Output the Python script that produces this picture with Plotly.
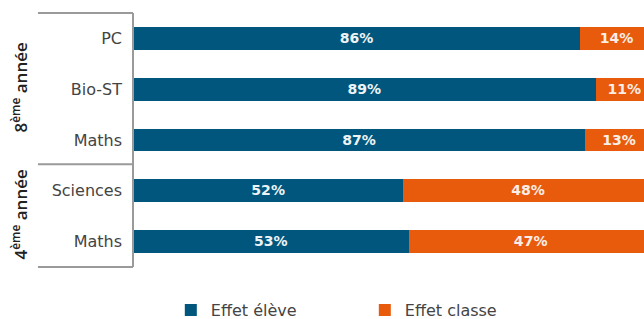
import plotly.graph_objects as go

categories = ["PC", "Bio-ST", "Maths ", "Sciences", "Maths"]
tick_labels = ["PC", "Bio-ST", "Maths", "Sciences", "Maths"]
effet_eleve = [86, 89, 87, 52, 53]
effet_classe = [14, 11, 13, 48, 47]
groups = ["8<sup>ème</sup> année", "4<sup>ème</sup> année"]

blue = "#00567D"
orange = "#E85A0C"
font_family = "DejaVu Sans"

fig = go.Figure()
fig.add_trace(go.Bar(
    y=categories, x=effet_eleve, orientation="h", name="Effet élève",
    marker=dict(color=blue, line=dict(width=0)),
    text=[f"{v}%" for v in effet_eleve], textposition="inside",
    insidetextanchor="middle",
    textfont=dict(color="#eef3f6", size=15, family=font_family, weight="bold"),
))
fig.add_trace(go.Bar(
    y=categories, x=effet_classe, orientation="h", name="Effet classe",
    marker=dict(color=orange, line=dict(width=0)),
    text=[f"{v}%" for v in effet_classe], textposition="inside",
    insidetextanchor="middle",
    textfont=dict(color="#fbeee6", size=15, family=font_family, weight="bold"),
))

fig.update_layout(
    width=644, height=319,
    barmode="stack", bargap=0.55,
    margin=dict(l=133, r=0, t=13, b=52, autoexpand=False),
    plot_bgcolor="white", paper_bgcolor="white",
    font=dict(family=font_family, color="#444", size=16),
    uniformtext=dict(minsize=8, mode="show"),
    xaxis=dict(range=[0, 98.3], visible=False, fixedrange=True),
    yaxis=dict(
        autorange="reversed", tickmode="array", tickvals=categories,
        ticktext=tick_labels, showgrid=False, showline=False, ticks="",
        ticklabelstandoff=10, tickfont=dict(size=16, color="#444"),
        automargin=False,
    ),
    legend=dict(
        orientation="h", x=0.074, xanchor="left", y=-0.17, yanchor="middle",
        font=dict(size=16, color="#444"), entrywidth=149, entrywidthmode="pixels",
        itemwidth=30, traceorder="normal",
    ),
    showlegend=True,
)

line_style = dict(color="#9a9a9a", width=2)
x_left = -0.186
fig.add_shape(type="line", xref="paper", yref="paper", x0=0, x1=0, y0=0, y1=1, line=line_style)
fig.add_shape(type="line", xref="paper", yref="paper", x0=x_left, x1=0, y0=1, y1=1, line=line_style)
fig.add_shape(type="line", xref="paper", yref="paper", x0=x_left, x1=0, y0=0, y1=0, line=line_style)
fig.add_shape(type="line", xref="paper", yref="paper", x0=x_left, x1=0, y0=0.405, y1=0.405, line=line_style)

fig.add_annotation(text=groups[0], xref="paper", yref="paper", x=-0.222, y=0.705,
                   xanchor="center", yanchor="middle",
                   textangle=-90, showarrow=False,
                   font=dict(size=17, color="#222", family="Open Sans", weight=600))
fig.add_annotation(text=groups[1], xref="paper", yref="paper", x=-0.222, y=0.205,
                   xanchor="center", yanchor="middle",
                   textangle=-90, showarrow=False,
                   font=dict(size=17, color="#222", family="Open Sans", weight=600))

fig.write_html("out.html", config={"displayModeBar": False},
               post_script="document.body.style.margin='0';document.body.style.overflow='hidden';")
